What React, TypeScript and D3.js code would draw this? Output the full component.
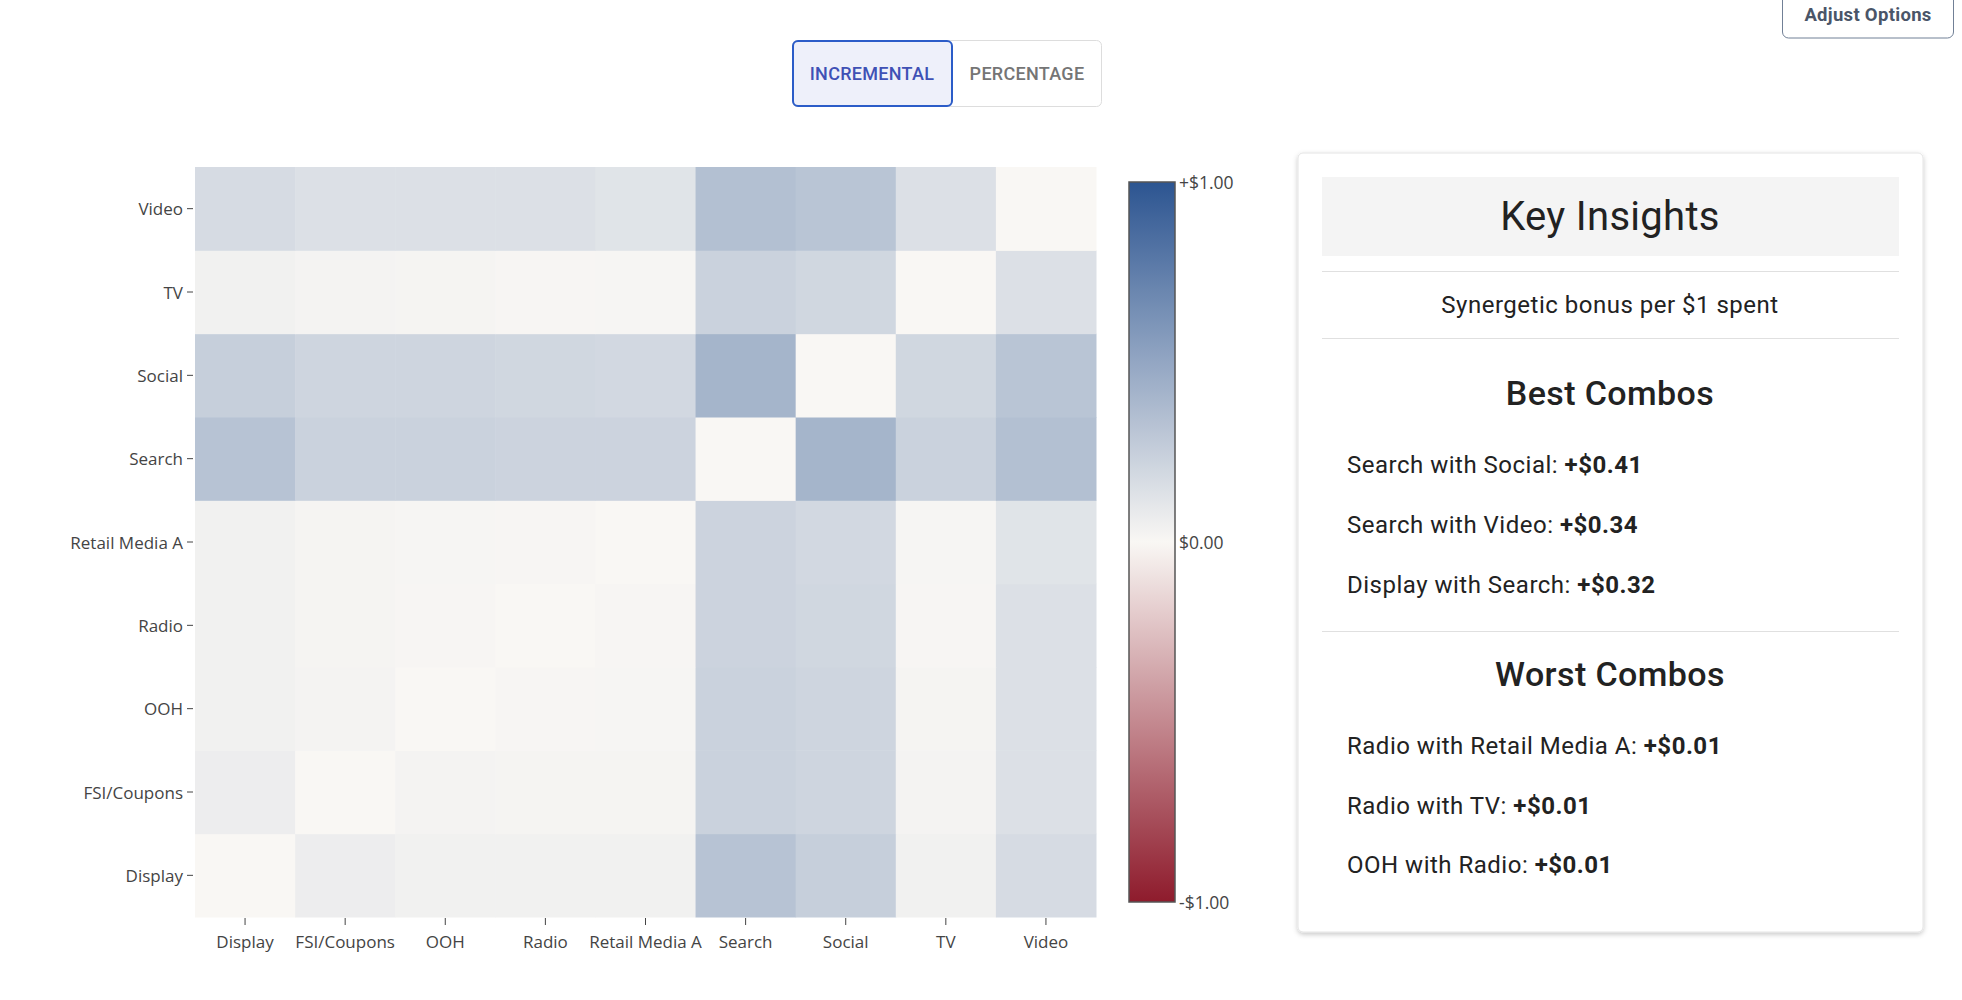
import React from "react";
import * as d3 from "d3";

const channels = ["Display", "FSI/Coupons", "OOH", "Radio", "Retail Media A", "Search", "Social", "TV", "Video"];

// synergy[i][j]: row = y channel i, column = x channel j (bonus per $1)
const synergyDisplay = [0, 0.06, 0.04, 0.04, 0.04, 0.32, 0.25, 0.04, 0.17];
const synergyFSI = [0.06, 0, 0.025, 0.02, 0.02, 0.23, 0.21, 0.025, 0.14];
const synergyOOH = [0.04, 0.025, 0, 0.01, 0.015, 0.23, 0.21, 0.02, 0.14];
const synergyRadio = [0.04, 0.02, 0.01, 0, 0.01, 0.22, 0.2, 0.01, 0.14];
const synergyRetail = [0.04, 0.02, 0.015, 0.01, 0, 0.22, 0.19, 0.015, 0.12];
const synergySearch = [0.32, 0.23, 0.23, 0.22, 0.22, 0, 0.41, 0.23, 0.34];
const synergySocial = [0.25, 0.21, 0.21, 0.2, 0.19, 0.41, 0, 0.2, 0.31];
const synergyTV = [0.04, 0.025, 0.02, 0.01, 0.015, 0.23, 0.2, 0, 0.14];
const synergyVideo = [0.17, 0.14, 0.14, 0.14, 0.12, 0.34, 0.31, 0.14, 0];

const synergyRows = [synergyDisplay, synergyFSI, synergyOOH, synergyRadio, synergyRetail, synergySearch, synergySocial, synergyTV, synergyVideo];

const colorDomain = [-1, 0, 1];
const colorRange = ["#8e1b2c", "#f9f7f4", "#2c5591"];
const colorTicks = [1, 0, -1];
const colorTickLabels = ["+$1.00", "$0.00", "-$1.00"];

const bestCombos = [
  { label: "Search with Social: ", value: "+$0.41" },
  { label: "Search with Video: ", value: "+$0.34" },
  { label: "Display with Search: ", value: "+$0.32" },
];
const worstCombos = [
  { label: "Radio with Retail Media A: ", value: "+$0.01" },
  { label: "Radio with TV: ", value: "+$0.01" },
  { label: "OOH with Radio: ", value: "+$0.01" },
];

const W = 1962;
const H = 1000;
const plot = { left: 195, right: 1096, top: 167, bottom: 917 };
const cbar = { x: 1129, w: 46, top: 182, bottom: 902 };

export default function App() {
  const x = d3.scaleBand<string>().domain(channels).range([plot.left, plot.right]);
  const y = d3.scaleBand<string>().domain(channels).range([plot.bottom, plot.top]);
  const color = d3.scaleLinear<string>().domain(colorDomain).range(colorRange).clamp(true);
  const cy = d3.scaleLinear().domain([-1, 1]).range([cbar.bottom, cbar.top]);

  const cells: { xi: string; yi: string; v: number }[] = [];
  synergyRows.forEach((row, i) => {
    row.forEach((v, j) => {
      cells.push({ xi: channels[j], yi: channels[i], v });
    });
  });

  const gradStops = d3.range(0, 1.0001, 0.05).map((t) => ({ t, c: color(1 - 2 * t) }));

  const axisFont = "'Open Sans', 'DejaVu Sans', sans-serif";
  const uiFont = "Roboto, 'Noto Sans', sans-serif";

  return (
    <div style={{ position: "absolute", left: 0, top: 0, width: W, height: H, background: "#fff" }}>
      <svg width={W} height={H} style={{ display: "block" }}>
        <defs>
          <linearGradient id="cbgrad" x1="0" y1="0" x2="0" y2="1">
            {gradStops.map((s, i) => (
              <stop key={i} offset={`${s.t * 100}%`} stopColor={s.c} />
            ))}
          </linearGradient>
          <filter id="cardShadow" x="-10%" y="-10%" width="120%" height="120%">
            <feDropShadow dx="0" dy="2" stdDeviation="2.5" floodColor="#000" floodOpacity="0.22" />
          </filter>
        </defs>

        {/* Adjust Options button */}
        <rect x={1782.5} y={-8} width={171} height={46} rx={6} fill="#fff" stroke="#718096" strokeWidth={1} />
        <text x={1868} y={21} textAnchor="middle" fontFamily={uiFont} fontSize={18.5} fontWeight={700} fill="#4a5568" letterSpacing={0.3}>
          Adjust Options
        </text>

        {/* toggle buttons */}
        <rect x={792.5} y={40.5} width={309} height={66} rx={5} fill="#fff" stroke="#dddddd" strokeWidth={1} />
        <rect x={793} y={41} width={159} height={65} rx={5} fill="#eef0fa" stroke="#2b5cc8" strokeWidth={2} />
        <text x={872} y={80} textAnchor="middle" fontFamily={uiFont} fontSize={18} fontWeight={500} fill="#3f51b5" letterSpacing={0.3}>
          INCREMENTAL
        </text>
        <text x={1027} y={80} textAnchor="middle" fontFamily={uiFont} fontSize={18} fontWeight={500} fill="#757575" letterSpacing={0.3}>
          PERCENTAGE
        </text>

        {/* heatmap cells */}
        <g>
          {cells.map((c, i) => (
            <rect
              key={i}
              x={x(c.xi)}
              y={y(c.yi)}
              width={x.bandwidth() + 0.5}
              height={y.bandwidth() + 0.5}
              fill={color(c.v)}
            />
          ))}
        </g>

        {/* y axis */}
        <g fontFamily={axisFont} fontSize={17} fill="#444">
          {channels.map((ch) => {
            const yc = (y(ch) as number) + y.bandwidth() / 2;
            return (
              <g key={ch}>
                <line x1={187} x2={193} y1={yc} y2={yc} stroke="#444" strokeWidth={1} />
                <text x={183} y={yc} textAnchor="end" dominantBaseline="central">
                  {ch}
                </text>
              </g>
            );
          })}
        </g>

        {/* x axis */}
        <g fontFamily={axisFont} fontSize={17} fill="#444">
          {channels.map((ch) => {
            const xc = (x(ch) as number) + x.bandwidth() / 2;
            return (
              <g key={ch}>
                <line x1={xc} x2={xc} y1={918} y2={925} stroke="#444" strokeWidth={1} />
                <text x={xc} y={948} textAnchor="middle">
                  {ch}
                </text>
              </g>
            );
          })}
        </g>

        {/* colorbar */}
        <rect x={cbar.x} y={cbar.top} width={cbar.w} height={cbar.bottom - cbar.top} fill="url(#cbgrad)" stroke="#555" strokeWidth={1.5} />
        <g fontFamily={axisFont} fontSize={17.5} fill="#444">
          {colorTicks.map((t, i) => (
            <text key={i} x={cbar.x + cbar.w + 4} y={cy(t)} dominantBaseline="central">
              {colorTickLabels[i]}
            </text>
          ))}
        </g>

        {/* Key insights card */}
        <rect x={1298} y={153} width={625} height={779} rx={5} fill="#fff" stroke="#e4e4e4" strokeWidth={1} filter="url(#cardShadow)" />
        <rect x={1322} y={177} width={577} height={79} fill="#f4f4f4" />
        <text x={1610} y={230} textAnchor="middle" fontFamily={uiFont} fontSize={40} fill="#222" letterSpacing={0.3}>
          Key Insights
        </text>
        <line x1={1322} x2={1899} y1={271.5} y2={271.5} stroke="#e0e0e0" strokeWidth={1} />
        <text x={1610} y={313} textAnchor="middle" fontFamily={uiFont} fontSize={24} fill="#222" letterSpacing={0.5}>
          Synergetic bonus per $1 spent
        </text>
        <line x1={1322} x2={1899} y1={338.5} y2={338.5} stroke="#e0e0e0" strokeWidth={1} />

        <text x={1610} y={405} textAnchor="middle" fontFamily={uiFont} fontSize={34} fontWeight={500} fill="#222" letterSpacing={0.4}>
          Best Combos
        </text>
        {bestCombos.map((c, i) => (
          <text key={i} x={1347} y={473 + i * 60} fontFamily={uiFont} fontSize={24} fill="#222" letterSpacing={0.5}>
            {c.label}
            <tspan fontWeight={700}>{c.value}</tspan>
          </text>
        ))}
        <line x1={1322} x2={1899} y1={631.5} y2={631.5} stroke="#e0e0e0" strokeWidth={1} />

        <text x={1610} y={686} textAnchor="middle" fontFamily={uiFont} fontSize={34} fontWeight={500} fill="#222" letterSpacing={0.4}>
          Worst Combos
        </text>
        {worstCombos.map((c, i) => (
          <text key={i} x={1347} y={754 + i * 59.5} fontFamily={uiFont} fontSize={24} fill="#222" letterSpacing={0.5}>
            {c.label}
            <tspan fontWeight={700}>{c.value}</tspan>
          </text>
        ))}
      </svg>
    </div>
  );
}
